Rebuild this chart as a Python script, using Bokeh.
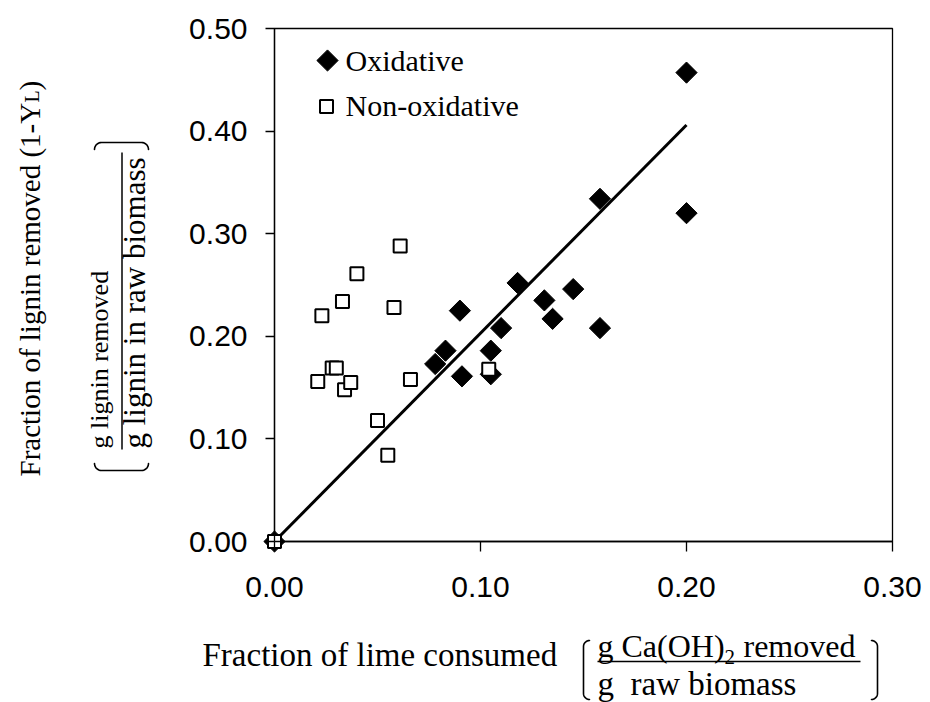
import math
from bokeh.plotting import figure
from bokeh.models import (Label, Arrow, PolyAnnotation, BoxAnnotation, Range1d,
                          FixedTicker, NumeralTickFormatter)
from bokeh.embed import file_html
from bokeh.resources import INLINE

# ---------------- data ----------------
ox_x = [0.000, 0.078, 0.083, 0.090, 0.091, 0.105, 0.105, 0.110, 0.118,
        0.131, 0.135, 0.145, 0.158, 0.158, 0.200, 0.200]
ox_y = [0.000, 0.173, 0.186, 0.225, 0.161, 0.186, 0.163, 0.208, 0.252,
        0.235, 0.217, 0.246, 0.208, 0.334, 0.320, 0.457]

nox_x = [0.000, 0.021, 0.023, 0.028, 0.030, 0.033, 0.034, 0.037, 0.040,
         0.050, 0.055, 0.058, 0.061, 0.066, 0.104]
nox_y = [0.000, 0.156, 0.220, 0.169, 0.169, 0.234, 0.148, 0.155, 0.261,
         0.118, 0.084, 0.228, 0.288, 0.158, 0.168]

fit_x = [0.0, 0.200]
fit_y = [0.0, 0.406]

x_ticks = [0.0, 0.1, 0.2, 0.3]
y_ticks = [0.0, 0.1, 0.2, 0.3, 0.4, 0.5]

series_names = ["Oxidative", "Non-oxidative"]

# ---------------- layout ----------------
W, H = 930, 702
FL, FR, FT, FB = 274, 892, 28, 541   # plot-area edges (canvas px)
X0, X1 = x_ticks[0], x_ticks[-1]
Y0, Y1 = y_ticks[0], y_ticks[-1]
kx = (FR - FL) / (X1 - X0)
ky = (FB - FT) / (Y1 - Y0)

# the frame covers the whole canvas; axes are pinned at the data origin
p = figure(width=W, height=H, output_backend="svg", toolbar_location=None,
           x_range=Range1d(X0 - FL / kx, X1 + (W - FR) / kx),
           y_range=Range1d(Y0 - (H - FB) / ky, Y1 + FT / ky),
           min_border=0, min_border_left=0, min_border_right=0,
           min_border_top=0, min_border_bottom=0)
p.grid.visible = False
p.background_fill_color = "white"
p.border_fill_color = "white"
p.outline_line_color = None

for ax, ticks in ((p.xaxis, x_ticks), (p.yaxis, y_ticks)):
    ax.ticker = FixedTicker(ticks=ticks)
    ax.formatter = NumeralTickFormatter(format="0.00")
    ax.bounds = (ticks[0], ticks[-1])
    ax.fixed_location = 0
    ax.minor_tick_line_color = None
    ax.major_tick_in = 0
    ax.axis_line_width = 1.3
    ax.major_tick_line_width = 1.3
    ax.axis_line_color = "black"
    ax.major_tick_line_color = "black"
    ax.major_label_text_font = "Liberation Sans"
    ax.major_label_text_font_size = "30px"
    ax.major_label_text_color = "black"
p.yaxis.major_tick_out = 9
p.yaxis.major_label_standoff = 18
p.xaxis.major_tick_out = 10
p.xaxis.major_label_standoff = 25

# plot-area border (top and right sides)
p.add_layout(BoxAnnotation(left=X0, right=X1, bottom=Y0, top=Y1, fill_color=None,
                           fill_alpha=0, line_color="black", line_alpha=1.0,
                           line_width=1.3, level="underlay"))

# ---------------- marks ----------------
p.scatter(ox_x, ox_y, marker="square", size=15, angle=math.pi / 4,
          fill_color="black", line_color="black", line_width=1)
p.line(fit_x, fit_y, line_width=3, line_color="black")
p.scatter(nox_x, nox_y, marker="square", size=13, fill_color="white",
          line_color="black", line_width=2)

# ---------------- legend (manual, inside the plot area) ----------------
def dx(cx):
    return X0 + (cx - FL) / kx

def dy(cy):
    return Y0 + (FB - cy) / ky

p.scatter([dx(327)], [dy(60)], marker="square", size=15, angle=math.pi / 4,
          fill_color="black", line_color="black", line_width=1)
p.scatter([dx(326)], [dy(106)], marker="square", size=13, fill_color="white",
          line_color="black", line_width=2)

def sx(cx):
    return cx

def sy(cy):
    return H - cy

def lab(text, cx, cy, size, angle=0.0, align="left", baseline="middle",
        font="Liberation Serif"):
    p.add_layout(Label(x=sx(cx), y=sy(cy), x_units="screen", y_units="screen",
                       text=text, text_font=font, text_font_size=f"{size}px",
                       text_align=align, text_baseline=baseline, angle=angle,
                       text_color="black"))

lab(series_names[0], 345, 60, 30)
lab(series_names[1], 345, 105, 30)

# ---------------- x-axis title ----------------
lab("Fraction of lime consumed", 202, 654, 33)
lab("g Ca(OH)", 597, 645, 32)
lab("2", 724, 656, 21)
lab("removed", 743, 645, 32)
lab("g\u00a0\u00a0raw biomass", 597, 683, 33)

def poly(pts, lw=1.6):
    path = pts + pts[-2:0:-1]
    p.add_layout(PolyAnnotation(xs=[sx(a) for a, b in path], ys=[sy(b) for a, b in path],
                                xs_units="screen", ys_units="screen",
                                fill_color=None, fill_alpha=0, line_color="black",
                                line_alpha=1.0, line_width=lw, line_join="round"))

def vbracket(c, top, bot, d, r, n=8):
    pts = []
    for i in range(n + 1):
        t = (math.pi / 2) * i / n
        pts.append((c + d * r * (1 - math.sin(t)), top + r * (1 - math.cos(t))))
    for i in range(n + 1):
        t = (math.pi / 2) * i / n
        pts.append((c + d * r * (1 - math.cos(t)), bot - r + r * math.sin(t)))
    return pts

def hbracket(c, left, right, d, r, n=8):
    pts = []
    for i in range(n + 1):
        t = (math.pi / 2) * i / n
        pts.append((left + r * (1 - math.cos(t)), c + d * r * (1 - math.sin(t))))
    for i in range(n + 1):
        t = (math.pi / 2) * i / n
        pts.append((right - r + r * math.sin(t), c + d * r * (1 - math.cos(t))))
    return pts

def bar(x0, y0, x1, y1, lw=1.5):
    p.add_layout(Arrow(x_start=sx(x0), y_start=sy(y0), x_end=sx(x1), y_end=sy(y1),
                       start_units="screen", end_units="screen", start=None, end=None,
                       line_width=lw, line_color="black", line_alpha=1.0))

poly(vbracket(583, 640, 699, +1, 6))
poly(vbracket(877, 640, 699, -1, 6))
bar(597, 661, 860, 661)

# ---------------- y-axis title (rotated) ----------------
rot = math.pi / 2
lab("Fraction of lignin removed (1-Y", 29, 476, 29, angle=rot)
lab("L", 31.8, 102, 20, angle=rot)
lab(")", 29, 90, 29, angle=rot)
lab("g lignin removed", 98.5, 448, 26, angle=rot)
lab("g lignin in raw biomass", 133.5, 448, 31, angle=rot)
bar(121.5, 449, 121.5, 152)
poly(hbracket(470, 94, 148, -1, 7))
poly(hbracket(142, 94, 148, +1, 7))

open("out.html", "w").write(file_html(p, INLINE))
